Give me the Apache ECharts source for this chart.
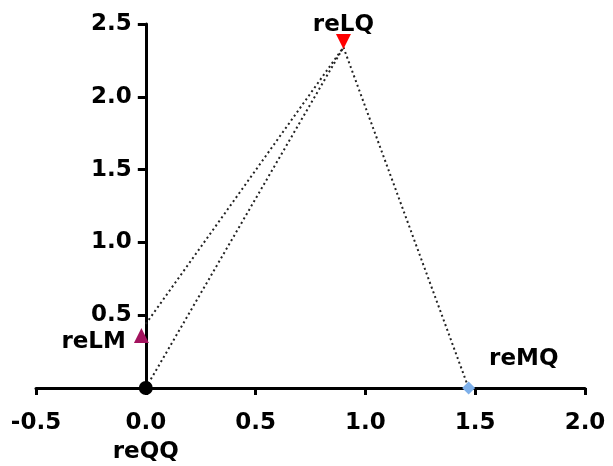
<!DOCTYPE html>
<html><head><meta charset="utf-8">
<script src="https://cdn.jsdelivr.net/npm/echarts@6/dist/echarts.min.js"></script>
<style>html,body{margin:0;padding:0;background:#fff}#c{width:613px;height:466px}</style>
</head><body><div id="c"></div>
<script>
var names = ['reQQ', 'reLM', 'reLQ', 'reMQ'];
var xVals = [0, -0.02, 0.9, 1.47];
var yVals = [0, 0.36, 2.38, 0];
var colors = ['#000000', '#A3135E', '#FF0000', '#7EB0EA'];
var symbols = ['circle', 'triangle', 'triangle', 'diamond'];
var lineFromLM = [[0, 0.44], [0.9, 2.34]];
var lineFromQQ = [[0, 0], [0.9, 2.34]];
var lineToMQ = [[0.9, 2.34], [1.47, 0]];
var xTicks = ['-0.5', '0.0', '0.5', '1.0', '1.5', '2.0'];
var yTicks = ['0.5', '1.0', '1.5', '2.0', '2.5'];

var font = 'DejaVu Sans, sans-serif';
var FS = 23;
var chart = echarts.init(document.getElementById('c'));
var labelCfg = [
  {position: 'bottom', distance: 46},
  {position: 'left', distance: 8, offset: [0, 6]},
  {position: 'top', distance: -3},
  {position: 'right', distance: 14, offset: [0, -29]}
];
var series = [];
function dotted(d) {
  return {type: 'line', data: d, symbol: 'none', silent: true, z: 1,
    lineStyle: {color: '#222', width: 2, type: [2, 3]}};
}
series.push(dotted(lineFromLM), dotted(lineFromQQ), dotted(lineToMQ));
names.forEach(function (n, i) {
  series.push({
    type: 'scatter', name: n, z: 5,
    data: [[xVals[i], yVals[i]]],
    symbol: symbols[i],
    symbolSize: i === 0 ? 14 : (i === 3 ? 13 : 15),
    symbolRotate: i === 2 ? 180 : 0,
    itemStyle: {color: colors[i], opacity: 1},
    label: Object.assign({show: true, formatter: n, color: '#000', fontSize: FS,
      fontWeight: 'bold', fontFamily: font}, labelCfg[i])
  });
});
chart.setOption({
  animation: false,
  grid: {left: 36, right: 28, top: 24, bottom: 78},
  xAxis: {
    type: 'value', min: -0.5, max: 2.0, interval: 0.5,
    axisLine: {show: true, onZero: true, lineStyle: {color: '#000', width: 3}},
    axisTick: {show: true, inside: false, length: 7, lineStyle: {color: '#000', width: 3}},
    splitLine: {show: false},
    axisLabel: {color: '#000', fontSize: FS, fontWeight: 'bold', fontFamily: font, margin: 24,
      formatter: function (v) { var i = Math.round((v + 0.5) / 0.5); return xTicks[i] || ''; }}
  },
  yAxis: {
    type: 'value', min: 0, max: 2.5, interval: 0.5,
    offset: -109.8,
    axisLine: {show: true, onZero: false, lineStyle: {color: '#000', width: 3}},
    axisTick: {show: true, length: 8, lineStyle: {color: '#000', width: 3}},
    splitLine: {show: false},
    axisLabel: {color: '#000', fontSize: FS, fontWeight: 'bold', fontFamily: font, margin: 14,
      showMinLabel: false,
      formatter: function (v) { var i = Math.round(v / 0.5) - 1; return i >= 0 ? yTicks[i] : ''; }}
  },
  series: series
});
</script></body></html>
